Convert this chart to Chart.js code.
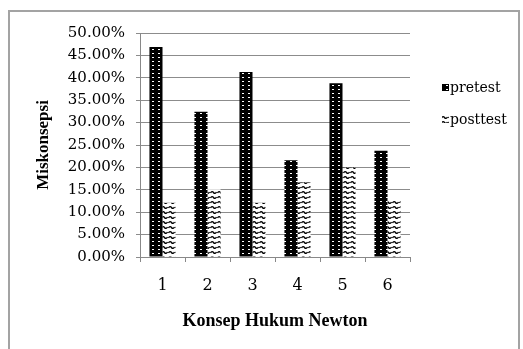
<!DOCTYPE html>
<html>
<head>
<meta charset="utf-8">
<script src="https://cdn.jsdelivr.net/npm/chart.js@4/dist/chart.umd.min.js"></script>
<style>
  html, body { margin: 0; padding: 0; background: #fff; }
  #wrap { position: relative; width: 523px; height: 349px; }
</style>
</head>
<body>
<div id="wrap"><canvas id="chart" width="523" height="349"></canvas></div>
<script>
const categories = ['1', '2', '3', '4', '5', '6'];
const pretest = [46.9, 32.4, 41.3, 21.6, 38.8, 23.7];
const posttest = [12.1, 15.1, 12.1, 16.7, 20.0, 12.5];
const seriesNames = ['pretest', 'posttest'];

// black fill with small white dots
function dotPattern() {
  const c = document.createElement('canvas');
  c.width = 6; c.height = 4;
  const g = c.getContext('2d');
  g.fillStyle = '#000';
  g.fillRect(0, 0, 6, 4);
  g.fillStyle = '#fff';
  g.fillRect(2, 1, 2, 1);
  return g.createPattern(c, 'repeat');
}

// white fill with small black waves
function wavePattern() {
  const c = document.createElement('canvas');
  c.width = 7; c.height = 5;
  const g = c.getContext('2d');
  g.fillStyle = '#fff';
  g.fillRect(0, 0, 7, 5);
  g.strokeStyle = '#000';
  g.lineWidth = 1.4;
  g.beginPath();
  g.moveTo(0.5, 3);
  g.quadraticCurveTo(2, 0.5, 3.5, 2.5);
  g.quadraticCurveTo(5, 4.5, 6.5, 2);
  g.stroke();
  return g.createPattern(c, 'repeat');
}

const fills = [dotPattern(), wavePattern()];

const frame = {
  id: 'frame',
  beforeDraw(chart) {
    const ctx = chart.ctx;
    ctx.save();
    ctx.fillStyle = '#fff';
    ctx.fillRect(0, 0, chart.width, chart.height);
    ctx.strokeStyle = '#a3a3a3';
    ctx.lineWidth = 2;
    ctx.strokeRect(9, 11, 510, 360);
    ctx.restore();
  },
  afterDraw(chart) {
    const ctx = chart.ctx;
    ctx.save();
    ctx.font = '14px "DejaVu Serif"';
    ctx.textBaseline = 'middle';
    ctx.fillStyle = '#000';
    const ys = [88, 120];
    seriesNames.forEach((name, i) => {
      ctx.fillStyle = fills[i];
      ctx.fillRect(442, ys[i] - 4, 7, 7);
      ctx.fillStyle = '#000';
      ctx.fillText(name, 450, ys[i]);
    });
    ctx.restore();
  }
};

new Chart(document.getElementById('chart'), {
  type: 'bar',
  data: {
    labels: categories,
    datasets: [
      { label: seriesNames[0], data: pretest, backgroundColor: fills[0], borderWidth: 0 },
      { label: seriesNames[1], data: posttest, backgroundColor: fills[1], borderWidth: 0 }
    ]
  },
  options: {
    responsive: false,
    animation: false,
    events: [],
    categoryPercentage: 0.58,
    barPercentage: 1,
    layout: { padding: { left: 29, right: 113, top: 33, bottom: 13 } },
    plugins: { legend: { display: false }, tooltip: { enabled: false } },
    scales: {
      x: {
        afterFit(scale) { scale.height = 79; },
        grid: { offset: true, drawOnChartArea: false, tickLength: 5, color: '#888' },
        border: { color: '#888' },
        ticks: { color: '#000', padding: 14, font: { family: 'DejaVu Serif', size: 16 } },
        title: {
          display: true, text: 'Konsep Hukum Newton', color: '#000',
          font: { family: 'Liberation Serif', size: 18, weight: 'bold' }
        }
      },
      y: {
        min: 0, max: 50,
        afterFit(scale) { scale.width = 111; },
        grid: { color: '#8c8c8c', tickLength: 4 },
        border: { color: '#888' },
        ticks: {
          stepSize: 5, color: '#000', padding: 11,
          font: { family: 'DejaVu Serif', size: 15 },
          callback: v => v.toFixed(2) + '%'
        },
        title: {
          display: true, text: 'Miskonsepsi', color: '#000',
          font: { family: 'Liberation Serif', size: 17, weight: 'bold' }
        }
      }
    }
  },
  plugins: [frame]
});
</script>
</body>
</html>
